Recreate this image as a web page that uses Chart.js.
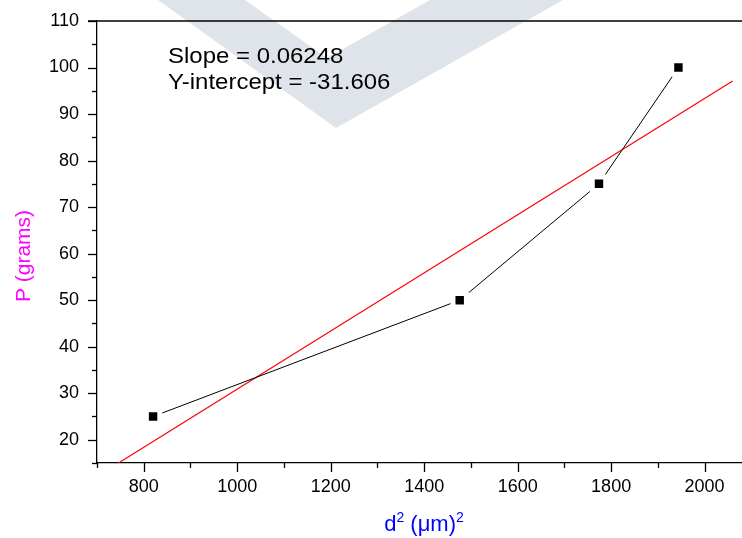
<!DOCTYPE html>
<html>
<head>
<meta charset="utf-8">
<script src="https://cdn.jsdelivr.net/npm/chart.js@4"></script>
<style>
  html, body { margin: 0; padding: 0; background: #fff; }
  #wrap { width: 742px; height: 538px; position: relative; }
</style>
</head>
<body>
<div id="wrap"><canvas id="chart" width="742" height="538"></canvas></div>
<script>
// measured points (d^2 vs load)
const dSquared = [820, 1476, 1774, 1944];
const loadGrams = [25, 50, 75, 100];

const fitX = [746, 2060];
const fitY = [15, 97.1];

const fitText = ['Slope = 0.06248', 'Y-intercept = -31.606'];

const FONT = '"Liberation Sans", Arial, sans-serif';

// faint logo behind the plot
const watermarkPlugin = {
  id: 'watermark',
  beforeDraw(chart) {
    const ctx = chart.ctx;
    ctx.save();
    ctx.fillStyle = '#dfe4ea';
    ctx.beginPath();
    ctx.moveTo(158, 0);
    ctx.lineTo(336, 128);
    ctx.lineTo(563, 0);
    ctx.lineTo(430, 0);
    ctx.lineTo(327, 58);
    ctx.lineTo(245, 0);
    ctx.closePath();
    ctx.fill();
    ctx.restore();
  }
};

// ticks, top frame, axis titles and the fit text
const decorPlugin = {
  id: 'decor',
  afterDraw(chart) {
    const ctx = chart.ctx;
    const area = chart.chartArea;
    const xs = chart.scales.x;
    const ys = chart.scales.y;
    ctx.save();
    ctx.strokeStyle = '#000';
    ctx.lineWidth = 1.3;

    // top frame line
    ctx.beginPath();
    ctx.moveTo(area.left - 9, area.top);
    ctx.lineTo(742, area.top);
    ctx.stroke();

    // x ticks: major every 200, minor every 100
    for (let v = 700; v <= 2000; v += 100) {
      const px = Math.round(xs.getPixelForValue(v)) + 0.5;
      const len = (v % 200 === 0) ? 9 : 5;
      ctx.beginPath();
      ctx.moveTo(px, area.bottom);
      ctx.lineTo(px, area.bottom + len);
      ctx.stroke();
    }
    // y ticks: major every 10, minor every 5
    for (let v = 15; v <= 110; v += 5) {
      const py = Math.round(ys.getPixelForValue(v)) + 0.5;
      const len = (v % 10 === 0) ? 9 : 5;
      ctx.beginPath();
      ctx.moveTo(area.left, py);
      ctx.lineTo(area.left - len, py);
      ctx.stroke();
    }

    // fit text (slightly wide, like the original export)
    ctx.save();
    ctx.fillStyle = '#000';
    ctx.font = '22px ' + FONT;
    ctx.textAlign = 'left';
    ctx.textBaseline = 'alphabetic';
    ctx.translate(168, 0);
    ctx.scale(1.09, 1);
    ctx.fillText(fitText[0], 0, 63);
    ctx.fillText(fitText[1], 0, 89);
    ctx.restore();

    // y title
    ctx.save();
    ctx.translate(30, 256);
    ctx.rotate(-Math.PI / 2);
    ctx.fillStyle = '#ff00ff';
    ctx.font = '21px ' + FONT;
    ctx.textAlign = 'center';
    ctx.textBaseline = 'alphabetic';
    ctx.fillText('P (grams)', 0, 0);
    ctx.restore();

    // x title with superscripts
    ctx.fillStyle = '#0000ff';
    ctx.textAlign = 'left';
    const parts = [['d', false], ['2', true], [' (\u03bcm)', false], ['2', true]];
    let w = 0;
    parts.forEach(p => {
      ctx.font = (p[1] ? '14px ' : '22px ') + FONT;
      w += ctx.measureText(p[0]).width;
    });
    let x = 424 - w / 2;
    const base = 531;
    parts.forEach(p => {
      ctx.font = (p[1] ? '14px ' : '22px ') + FONT;
      ctx.fillText(p[0], x, p[1] ? base - 9 : base);
      x += ctx.measureText(p[0]).width;
    });
    ctx.restore();
  }
};

const ctx = document.getElementById('chart').getContext('2d');
const myChart = new Chart(ctx, {
  type: 'scatter',
  data: {
    datasets: [
      {
        label: 'data',
        data: dSquared.map((d, i) => ({ x: d, y: loadGrams[i] })),
        showLine: true,
        borderColor: '#000',
        backgroundColor: '#000',
        borderWidth: 1,
        pointStyle: 'rect',
        pointRadius: 9.5,
        pointHoverRadius: 9.5,
        pointBorderColor: '#fff',
        pointBorderWidth: 5,
        pointHoverBorderWidth: 5,
        order: 1
      },
      {
        label: 'fit',
        data: fitX.map((d, i) => ({ x: d, y: fitY[i] })),
        showLine: true,
        borderColor: '#ff0000',
        borderWidth: 1.2,
        pointRadius: 0,
        order: 2
      }
    ]
  },
  options: {
    responsive: false,
    animation: false,
    layout: { autoPadding: false, padding: { top: 21, right: 0, left: 0, bottom: 0 } },
    plugins: {
      legend: { display: false },
      tooltip: { enabled: false }
    },
    scales: {
      x: {
        type: 'linear',
        min: 700,
        max: 2080,
        border: { display: true, color: '#000', width: 1.3 },
        grid: { display: true, drawOnChartArea: false, drawTicks: false },
        ticks: {
          stepSize: 100,
          includeBounds: false,
          autoSkip: false,
          maxRotation: 0,
          padding: 13,
          color: '#000',
          font: { family: FONT, size: 18 },
          callback: v => (v % 200 === 0) ? String(v) : ''
        },
        afterFit: s => {
          s.height = 75;
          s.paddingLeft = 0;
          s.paddingRight = 0;
        }
      },
      y: {
        type: 'linear',
        min: 15,
        max: 110,
        border: { display: true, color: '#000', width: 1.3 },
        grid: { display: true, drawOnChartArea: false, drawTicks: false },
        ticks: {
          stepSize: 5,
          autoSkip: false,
          padding: 18,
          color: '#000',
          font: { family: FONT, size: 18 },
          callback: v => (v % 10 === 0) ? String(v) : ''
        },
        afterFit: s => {
          s.width = 97;
          s.paddingTop = 0;
          s.paddingBottom = 0;
        }
      }
    }
  },
  plugins: [watermarkPlugin, decorPlugin]
});
</script>
</body>
</html>
